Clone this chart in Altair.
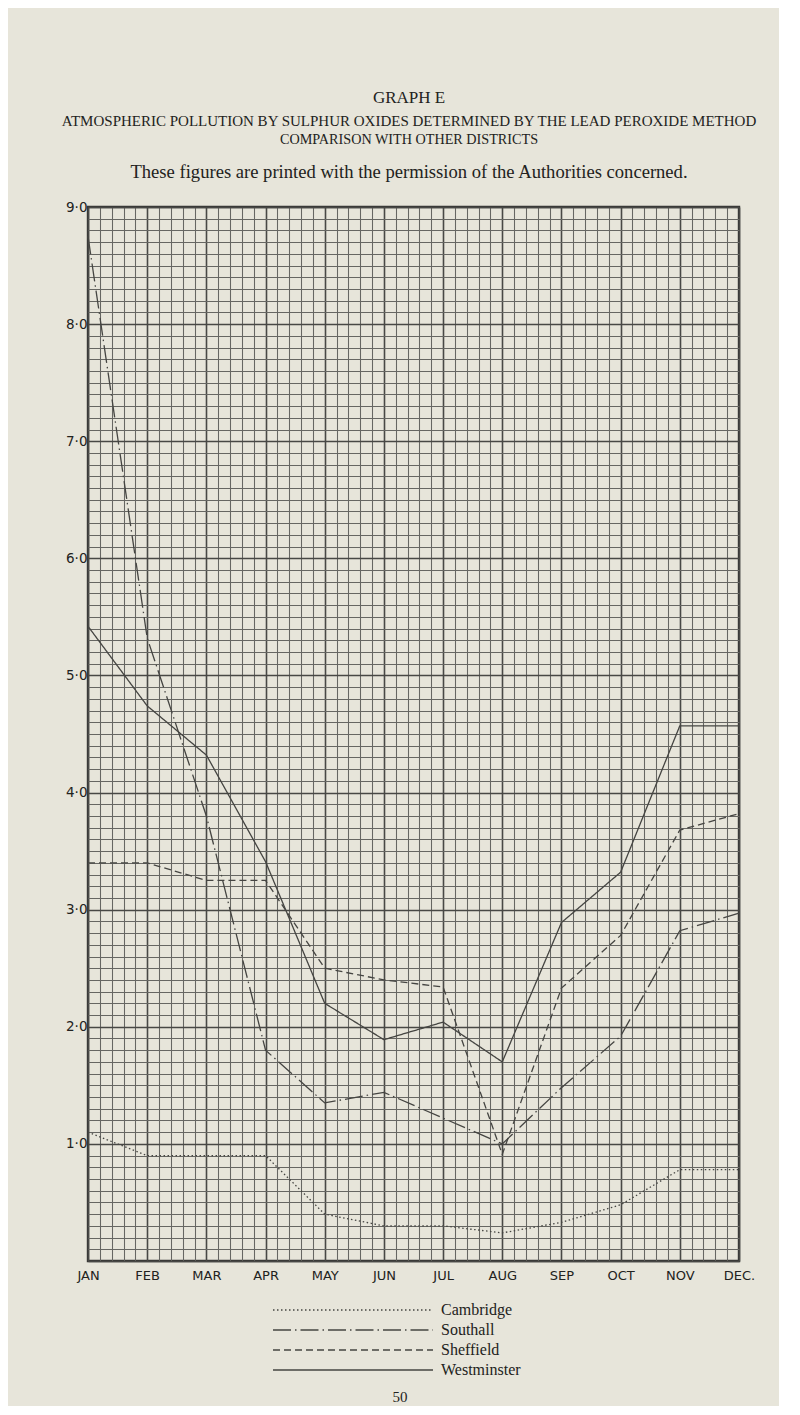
import altair as alt
import pandas as pd

MONTHS = ["JAN", "FEB", "MAR", "APR", "MAY", "JUN", "JUL", "AUG", "SEP", "OCT", "NOV", "DEC."]
DISTRICTS = ["Cambridge", "Southall", "Sheffield", "Westminster"]

cambridge = [1.10, 0.90, 0.90, 0.90, 0.40, 0.30, 0.30, 0.24, 0.33, 0.48, 0.78, 0.78]
southall = [8.75, 5.32, 3.80, 1.80, 1.35, 1.44, 1.22, 1.00, 1.48, 1.92, 2.82, 2.97]
sheffield = [3.40, 3.40, 3.25, 3.25, 2.50, 2.40, 2.34, 0.91, 2.33, 2.78, 3.68, 3.82]
westminster = [5.42, 4.74, 4.32, 3.41, 2.20, 1.89, 2.04, 1.70, 2.89, 3.32, 4.57, 4.57]

TITLE = "GRAPH E"
HEAD_1 = "ATMOSPHERIC POLLUTION BY SULPHUR OXIDES DETERMINED BY THE LEAD PEROXIDE METHOD"
HEAD_2 = "COMPARISON WITH OTHER DISTRICTS"
NOTE = "These figures are printed with the permission of the Authorities concerned."
PAGE_NO = "50"

# --- styles ---
PAPER = "#e7e5da"
INK = "#222220"
LINE = "#454542"
SERIF = "Liberation Serif"
LETTERING = "DejaVu Sans"
DASHES = [[1.5, 2.5], [18, 4, 1.5, 4], [7, 4], [1, 0]]

rows = []
for name, vals in zip(DISTRICTS, [cambridge, southall, sheffield, westminster]):
    for i, v in enumerate(vals):
        rows.append({"district": name, "m": i, "month": MONTHS[i], "value": v})
df = pd.DataFrame(rows)

# graph-paper rulings: fifths of a month across, tenths up
x_rulings = [round(i * 0.2, 1) for i in range(5 * 11 + 1)]
y_rulings = [round(i * 0.1, 1) for i in range(91)]
on_whole = "abs(datum.value - round(datum.value)) < 0.01"
month_arr = "[" + ",".join("'%s'" % m for m in MONTHS) + "]"

grid_w = {"condition": {"test": on_whole, "value": 1.6}, "value": 1.05}
grid_c = {"condition": {"test": on_whole, "value": "#484845"}, "value": "#666662"}

x_enc = alt.X(
    "m:Q",
    scale=alt.Scale(domain=[0, 11], nice=False, zero=False),
    axis=alt.Axis(
        values=x_rulings, title=None, ticks=False, domain=False,
        labelOverlap=False, labelFlush=False,
        labelExpr=f"{on_whole} ? {month_arr}[round(datum.value)] : ''",
        gridWidth=grid_w, gridColor=grid_c, gridOpacity=1,
        labelFont=LETTERING, labelFontSize=13, labelColor=INK, labelPadding=8,
    ),
)
y_enc = alt.Y(
    "value:Q",
    scale=alt.Scale(domain=[0, 9], nice=False),
    axis=alt.Axis(
        values=y_rulings, title=None, ticks=False, domain=False,
        labelOverlap=False, labelFlush=False,
        labelExpr=f"datum.value >= 1 && {on_whole} ? replace(format(datum.value, '.1f'), '.', '·') : ''",
        gridWidth=grid_w, gridColor=grid_c, gridOpacity=1,
        labelFont=LETTERING, labelFontSize=13.5, labelColor=INK, labelPadding=1,
    ),
)

lines = alt.Chart(df).mark_line(color=LINE, strokeWidth=1.3).encode(
    x=x_enc,
    y=y_enc,
    detail="district:N",
    strokeDash=alt.StrokeDash(
        "district:N", scale=alt.Scale(domain=DISTRICTS, range=DASHES), legend=None
    ),
    order="m:Q",
)


def label(text, x, y, size, align="center", font=SERIF):
    return alt.Chart(pd.DataFrame({"t": [text]})).mark_text(
        font=font, fontSize=size, color=INK, align=align, baseline="middle"
    ).encode(text="t:N", x=alt.value(x), y=alt.value(y))


heads = [
    label(TITLE, 321, -109, 17),
    label(HEAD_1, 321, -86, 15),
    label(HEAD_2, 321, -67, 14.2),
    label(NOTE, 321, -35, 18.6),
    label(PAGE_NO, 312, 1190, 15),
]

# key under the graph, drawn as on the printed page
key = []
for i, (name, dash) in enumerate(zip(DISTRICTS, DASHES)):
    y = 1103 + i * 20
    rule = alt.Chart(pd.DataFrame({"d": [name]})).mark_rule(
        color=LINE, strokeWidth=1.3, strokeDash=dash
    ).encode(x=alt.value(185), x2=alt.value(345), y=alt.value(y))
    key += [rule, label(name, 353, y, 16, align="left")]

chart = alt.layer(lines, *heads, *key).properties(
    width=651,
    height=1054,
    autosize=alt.AutoSizeParams(type="none"),
    padding={"left": 80, "top": 199, "right": 40, "bottom": 145},
    background=PAPER,
).configure_view(stroke="#363634", strokeWidth=2.4)

chart.save("out.html", embed_options={"renderer": "svg", "actions": False})
